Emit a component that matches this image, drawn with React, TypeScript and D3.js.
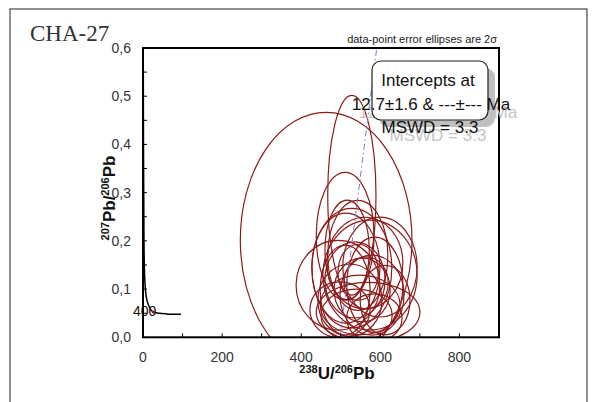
import React from "react";
import * as d3 from "d3";

// axis ticks
const xTicks = [0, 200, 400, 600, 800];
const xMinorTicks = [100, 300, 500, 700];
const yTicks = [0, 0.1, 0.2, 0.3, 0.4, 0.5, 0.6];
const yTickLabels = ["0,0", "0,1", "0,2", "0,3", "0,4", "0,5", "0,6"];
const yMinorTicks = [0.05, 0.15, 0.25, 0.35, 0.45, 0.55];

// data-point error ellipses (centre and 2 sigma half-axes)
const ellX = [463, 528, 511, 516, 513, 493, 574, 569, 599, 561, 536, 554, 523, 579, 544, 564, 511, 549, 586, 498, 612, 528, 543, 540, 585];
const ellY = [0.2015, 0.2946, 0.2097, 0.181, 0.1435, 0.108, 0.129, 0.052, 0.1456, 0.154, 0.119, 0.098, 0.077, 0.0875, 0.135, 0.113, 0.098, 0.067, 0.1087, 0.057, 0.077, 0.1435, 0.17, 0.045, 0.04];
const ellRx = [217, 61, 73, 56, 86, 106, 119, 131, 94, 96, 76, 71, 81, 81, 51, 56, 63, 101, 71, 76, 63, 101, 76, 90, 70];
const ellRy = [0.265, 0.207, 0.1325, 0.1035, 0.114, 0.093, 0.114, 0.062, 0.1035, 0.095, 0.079, 0.066, 0.075, 0.083, 0.058, 0.054, 0.093, 0.062, 0.099, 0.058, 0.072, 0.124, 0.114, 0.055, 0.05];

// concordia curve
const concordiaX = [0.6, 1.2, 2.5, 4, 8, 15, 26, 40, 60, 96];
const concordiaY = [0.6, 0.4, 0.2, 0.13, 0.085, 0.065, 0.0525, 0.05, 0.0485, 0.0476];
const ageMarkX = [26];
const ageMarkY = [0.0525];
const ageMarkLabel = ["400"];

// discordia (regression line)
const discordiaX = [498, 591];
const discordiaY = [0, 0.6];

const interceptLines = ["Intercepts at", "12.7\u00b11.6 & ---\u00b1--- Ma", "MSWD = 3.3"];

const left = 143, right = 499, top = 48, bottom = 337.3;

export default function App() {
  const x = d3.scaleLinear().domain([0, 900]).range([left, right]);
  const y = d3.scaleLinear().domain([0, 0.6]).range([bottom, top]);

  const concordia = d3.line<number>()
    .x((d, i) => x(concordiaX[i]))
    .y((d, i) => y(concordiaY[i]))
    .curve(d3.curveMonotoneX)(concordiaX);

  const red = "#8b1a1a";
  const sans = "'Liberation Sans', Arial, sans-serif";

  return (
    <svg width={594} height={402} style={{ position: "absolute", left: 0, top: 0, background: "#fff" }}>
      <defs>
        <clipPath id="plotclip">
          <rect x={left} y={top} width={right - left} height={bottom - top} />
        </clipPath>
      </defs>
      {/* outer frame */}
      <rect x={10} y={9} width={577} height={420} fill="none" stroke="#222" strokeWidth={1} />
      <text x={30} y={41} fontFamily="'Liberation Serif', 'Times New Roman', serif" fontSize={23} fill="#333">CHA-27</text>

      <text x={497} y={43} textAnchor="end" fontFamily={sans} fontSize={11} fill="#222">
        data-point error ellipses are 2σ
      </text>

      <g clipPath="url(#plotclip)">
        {ellX.map((d, i) => (
          <ellipse key={i} cx={x(d)} cy={y(ellY[i])}
            rx={x(d + ellRx[i]) - x(d)} ry={y(0) - y(ellRy[i])}
            fill="none" stroke={red} strokeWidth={1.2} />
        ))}
        <line x1={x(discordiaX[0])} y1={y(discordiaY[0])} x2={x(discordiaX[1])} y2={y(discordiaY[1])}
          stroke="#7a7ac8" strokeWidth={1} strokeDasharray="6,3,1.5,3" />
        <path d={concordia || ""} fill="none" stroke="#000" strokeWidth={1.5} />
      </g>

      {ageMarkX.map((d, i) => (
        <g key={i}>
          <circle cx={x(d)} cy={y(ageMarkY[i])} r={1.6} fill="#c00" />
          <text x={x(d) + 3} y={y(ageMarkY[i]) + 4} textAnchor="end" fontFamily={sans} fontSize={14} fill="#111">{ageMarkLabel[i]}</text>
        </g>
      ))}

      {/* plot frame */}
      <rect x={left} y={top} width={right - left} height={bottom - top} fill="none" stroke="#000" strokeWidth={2} />

      {/* ticks */}
      {xTicks.concat(xMinorTicks).map((t) => (
        <line key={"xt" + t} x1={x(t)} x2={x(t)} y1={bottom} y2={bottom - 4} stroke="#000" strokeWidth={1} />
      ))}
      {yTicks.concat(yMinorTicks).map((t) => (
        <line key={"yt" + t} x1={left} x2={left + 4} y1={y(t)} y2={y(t)} stroke="#000" strokeWidth={1} />
      ))}
      {xTicks.map((t) => (
        <text key={"xl" + t} x={x(t)} y={362} textAnchor="middle" fontFamily={sans} fontSize={14} fill="#333">{t}</text>
      ))}
      {yTicks.map((t, i) => (
        <text key={"yl" + t} x={131} y={y(t) + 5} textAnchor="end" fontFamily={sans} fontSize={14} fill="#333">{yTickLabels[i]}</text>
      ))}

      {/* axis titles */}
      <text x={337} y={379} textAnchor="middle" fontFamily={sans} fontWeight="bold" fontSize={17} fill="#111">
        <tspan fontSize={11} dy={-6}>238</tspan>
        <tspan dy={6}>U/</tspan>
        <tspan fontSize={11} dy={-6}>206</tspan>
        <tspan dy={6}>Pb</tspan>
      </text>
      <text transform="translate(115,198) rotate(-90)" textAnchor="middle" fontFamily={sans} fontWeight="bold" fontSize={17} fill="#111">
        <tspan fontSize={11} dy={-6}>207</tspan>
        <tspan dy={6}>Pb/</tspan>
        <tspan fontSize={11} dy={-6}>206</tspan>
        <tspan dy={6}>Pb</tspan>
      </text>

      {/* intercept box */}
      <rect x={379} y={68} width={116} height={59} rx={9} fill="#c0c0c0" />
      <text x={438} y={118} textAnchor="middle" fontFamily={sans} fontSize={17} fill="#c4c4c4">{interceptLines[1]}</text>
      <text x={438} y={141} textAnchor="middle" fontFamily={sans} fontSize={17} fill="#c4c4c4">{interceptLines[2]}</text>
      <rect x={372} y={61} width={116} height={59} rx={9} fill="#fff" stroke="#222" strokeWidth={1.2} />
      <text x={428} y={86} textAnchor="middle" fontFamily={sans} fontSize={17} fill="#111">{interceptLines[0]}</text>
      <text x={431} y={110} textAnchor="middle" fontFamily={sans} fontSize={17} fill="#111">{interceptLines[1]}</text>
      <text x={430} y={133} textAnchor="middle" fontFamily={sans} fontSize={17} fill="#111">{interceptLines[2]}</text>
    </svg>
  );
}
